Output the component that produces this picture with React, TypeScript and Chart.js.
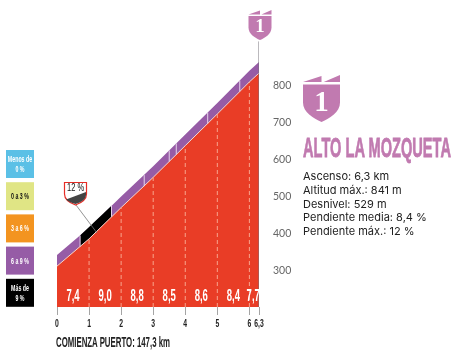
import React, { useEffect, useRef } from "react";
import { Chart, registerables } from "chart.js";

Chart.register(...registerables);

const profileKm = [0, 1, 2, 3, 4, 5, 6, 6.3];
const profileAlt = [311, 385, 470, 552, 638, 724, 811, 835];
const bandTopAlt = [341, 415, 500, 582, 668, 754, 841, 865];
const blackKm = [0.72, 1.7];
const blackTopAlt = [394, 475];
const dividerKm = [0.72, 1.7, 2.72, 3.5, 3.72, 4.7, 5.7];
const dividerBottom = [364, 445, 528, 595, 614, 698, 785];
const dividerTop = [394, 475, 558, 625, 644, 728, 815];
const dashKm = [1, 2, 3, 4, 5, 6];
const dashAlt = [385, 470, 552, 638, 724, 811];
const segmentKm = [0.5, 1.5, 2.5, 3.5, 4.5, 5.5, 6.12];
const segmentLabels = ["7,4", "9,0", "8,8", "8,5", "8,6", "8,4", "7,7"];
const xTicks = [0, 1, 2, 3, 4, 5, 6, 6.3];
const yTicks = [300, 400, 500, 600, 700, 800];
const poleTopAlt = 921;
const baseAlt = 200;

const legendLabels = [["Menos de", "0 %"], ["0 a 3 %"], ["3 a 6 %"], ["6 a 9 %"], ["Más de", "9 %"]];
const legendColors = ["#5bc0e6", "#e0e585", "#f39420", "#965ca6", "#000000"];
const legendText = ["#ffffff", "#111111", "#ffffff", "#ffffff", "#ffffff"];
const infoLines = ["Ascenso: 6,3 km", "Altitud máx.: 841 m", "Desnivel: 529 m", "Pendiente media: 8,4 %", "Pendiente máx.: 12 %"];

const COND = '"Liberation Sans", sans-serif';
const BADGE = "#c17ab0";

const pts = (xs: number[], ys: number[]) => xs.map((x, i) => ({ x, y: ys[i] }));

const textPlugin = {
  id: "condensedText",
  afterDatasetsDraw(chart: any) {
    const { ctx, scales } = chart;
    ctx.save();
    ctx.textAlign = "center";
    ctx.textBaseline = "middle";
    ctx.fillStyle = "#ffffff";
    ctx.font = `bold 17px ${COND}`;
    segmentLabels.forEach((t, i) => {
      ctx.save();
      ctx.translate(scales.x.getPixelForValue(segmentKm[i]), 296);
      ctx.scale(0.56, 1);
      ctx.fillText(t, 0, 0);
      ctx.restore();
    });
    ctx.fillStyle = "#222222";
    ctx.font = `bold 11px ${COND}`;
    xTicks.forEach((v) => {
      ctx.save();
      ctx.translate(scales.x.getPixelForValue(v), 324);
      ctx.scale(0.62, 1);
      ctx.fillText(String(v).replace(".", ","), 0, 0);
      ctx.restore();
    });
    ctx.restore();
  },
};

function Badge({ x, y, w, h }: { x: number; y: number; w: number; h: number }) {
  return (
    <svg x={x} y={y} width={w} height={h} viewBox="0 0 100 100" preserveAspectRatio="none" overflow="visible">
      <path d="M0 15 L50 2 L50 15 Z M56 15 L100 0 L100 15 Z" fill={BADGE} />
      <path d="M0 20 H100 V58 C100 80 72 92 50 100 C28 92 0 80 0 58 Z" fill={BADGE} />
    </svg>
  );
}

function CondText({ x, y, sx, size, fill, anchor, bold = true, children }: any) {
  return (
    <text transform={`translate(${x} ${y}) scale(${sx} 1)`} textAnchor={anchor ?? "middle"} fontFamily={COND} fontWeight={bold ? "bold" : "normal"} fontSize={size} fill={fill}>
      {children}
    </text>
  );
}

export default function App() {
  const ref = useRef<HTMLCanvasElement>(null);
  useEffect(() => {
    document.body.style.margin = "0";
    const dividerData: any[] = [];
    dividerKm.forEach((k, i) => {
      dividerData.push({ x: k, y: dividerBottom[i] }, { x: k, y: dividerTop[i] }, { x: k, y: null });
    });
    const dashData: any[] = [];
    dashKm.forEach((k, i) => {
      dashData.push({ x: k, y: baseAlt }, { x: k, y: dashAlt[i] }, { x: k, y: null });
    });
    const line = { pointRadius: 0, tension: 0 };
    const chart = new Chart(ref.current!, {
      type: "line",
      data: {
        datasets: [
          { label: "pole", data: [{ x: 6.3, y: baseAlt }, { x: 6.3, y: poleTopAlt }], borderColor: "#77737a", borderWidth: 1, order: 1, ...line },
          { label: "dividers", data: dividerData, borderColor: "#e6d3ea", borderWidth: 1, spanGaps: false, order: 2, ...line },
          { label: "km", data: dashData, borderColor: "#f7a48c", borderWidth: 1, borderDash: [4, 3], spanGaps: false, order: 3, ...line },
          { label: "profile", data: pts(profileKm, profileAlt), borderColor: "#f6d7cc", borderWidth: 1, backgroundColor: "#e93d26", fill: "start", order: 4, ...line },
          { label: "black", data: pts(blackKm, blackTopAlt), borderColor: "#000000", borderWidth: 0, backgroundColor: "#000000", fill: "start", order: 5, ...line },
          { label: "band", data: pts(profileKm, bandTopAlt), borderColor: "#965ca6", borderWidth: 0, backgroundColor: "#965ca6", fill: "start", order: 6, ...line },
        ],
      } as any,
      options: {
        animation: false,
        responsive: false,
        parsing: false,
        layout: { padding: { top: 11, left: 57, right: 0, bottom: 0 } },
        plugins: { legend: { display: false }, tooltip: { enabled: false } },
        scales: {
          x: {
            type: "linear",
            min: 0,
            max: 6.3,
            afterBuildTicks: (s: any) => { s.ticks = xTicks.map((value) => ({ value })); },
            afterFit: (s: any) => { s.height = 46; },
            grid: { drawOnChartArea: false, tickLength: 8, tickColor: "#a5a5a5", tickWidth: 1 },
            border: { display: false },
            ticks: { display: false, autoSkip: false, maxRotation: 0 },
          },
          y: {
            type: "linear",
            position: "right",
            min: baseAlt,
            max: 1000,
            afterBuildTicks: (s: any) => { s.ticks = yTicks.map((value) => ({ value })); },
            afterFit: (s: any) => { s.width = 199; },
            grid: { display: false },
            border: { display: false },
            ticks: { padding: 6, color: "#666666", font: { family: "Lato", size: 10.5 } },
          },
        },
      },
      plugins: [textPlugin],
    } as any);
    return () => chart.destroy();
  }, []);

  return (
    <div style={{ position: "absolute", left: 0, top: 0, width: 458, height: 353, background: "#fff" }}>
      <canvas ref={ref} width={458} height={353} style={{ position: "absolute", left: 0, top: 0 }} />
      <svg width={458} height={353} style={{ position: "absolute", left: 0, top: 0 }}>
        <Badge x={248.5} y={10} w={23} h={30} />
        <text x={260} y={32} textAnchor="middle" fontFamily="Liberation Serif" fontWeight="bold" fontSize={19} fill="#fff">1</text>
        <Badge x={303} y={75} w={37} h={47} />
        <text x={321.5} y={111} textAnchor="middle" fontFamily="Liberation Serif" fontWeight="bold" fontSize={29} fill="#fff">1</text>
        <text x={303} y={157} fontFamily={COND} fontWeight="bold" fontSize={28} fill={BADGE} stroke={BADGE} strokeWidth={0.8} textLength={148} lengthAdjust="spacingAndGlyphs">ALTO LA MOZQUETA</text>
        {infoLines.map((t, i) => (
          <text key={t} x={303} y={180 + i * 13.8} fontFamily="Inter" fontSize={11} fill="#222">{t}</text>
        ))}
        {legendLabels.map((lines, i) => {
          const y = 150 + i * 32.2;
          return (
            <g key={i}>
              <rect x={6} y={y} width={28} height={28} fill={legendColors[i]} />
              {lines.map((t, j) => (
                <CondText key={j} x={20} y={y + 17 + (j - (lines.length - 1) / 2) * 10} sx={0.62} size={8.5} fill={legendText[i]}>{t}</CondText>
              ))}
            </g>
          );
        })}
        <line x1={76} y1={205} x2={97} y2={233} stroke="#777" strokeWidth={0.8} />
        <path d="M64.5 182.5 H86.5 V194 C86.5 200 81 203 75.5 205 C70 203 64.5 200 64.5 194 Z" fill="#fff" stroke="#e52d26" strokeWidth={1.2} />
        <path d="M66 199.5 L86 192 V194.5 C86 199.5 81 202 75.5 204 C71 202.5 68 201.5 66 199.5 Z" fill="#444" />
        <CondText x={75.5} y={191} sx={0.75} size={10} fill="#111" bold={false}>12 %</CondText>
        <text x={56} y={347} fontFamily={COND} fontWeight="bold" fontSize={15} fill="#222" textLength={114} lengthAdjust="spacingAndGlyphs">COMIENZA PUERTO: 147,3 km</text>
      </svg>
    </div>
  );
}
